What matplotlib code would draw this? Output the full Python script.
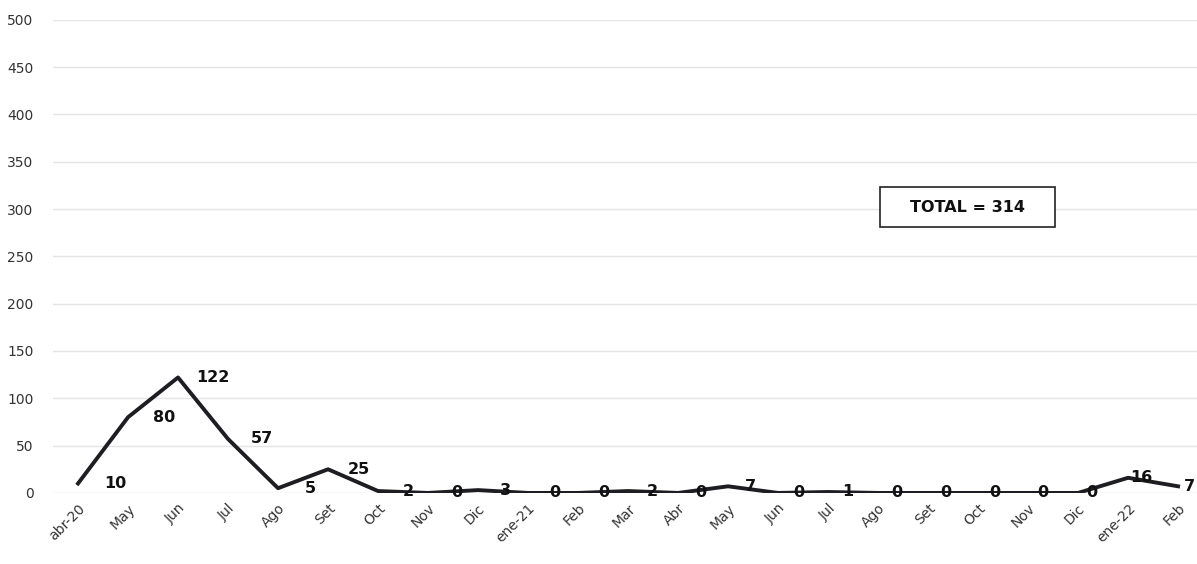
import matplotlib.pyplot as plt
from matplotlib.patches import Rectangle

months = ["abr-20", "May", "Jun", "Jul", "Ago", "Set", "Oct", "Nov", "Dic",
          "ene-21", "Feb", "Mar", "Abr", "May", "Jun", "Jul", "Ago", "Set",
          "Oct", "Nov", "Dic", "ene-22", "Feb"]
cases = [10, 80, 122, 57, 5, 25, 2, 0, 3, 0, 0, 2, 0, 7, 0, 1, 0, 0, 0, 0, 0, 16, 7]
total_label = "TOTAL = 314"

fig = plt.figure(figsize=(11.97, 5.64), dpi=100)
ax = fig.add_axes([0.0443, 0.126, 0.9566, 0.839])

x = list(range(len(months)))
ax.plot(x, cases, color="#1e1e22", linewidth=2.8, solid_joinstyle="round")

# value labels drift from right of the point toward the point along the axis
for i, v in zip(x, cases):
    ax.text(i + 0.74 - 0.023 * i, v, str(v), ha="center", va="center", fontsize=11.5,
            fontweight="bold", color="#111111", clip_on=False)

ax.set_xlim(-0.5, 22.4)
ax.set_ylim(0, 500)
ax.set_yticks(range(0, 501, 50))
ax.yaxis.grid(True, color="#e4e4e4", linewidth=1)
ax.set_axisbelow(True)
ax.set_xticks(x)
ax.set_xticklabels(months, rotation=45, ha="right", rotation_mode="anchor",
                   fontsize=10, color="#333333")
ax.tick_params(axis="both", length=0)
ax.tick_params(axis="y", labelsize=10, labelcolor="#333333", pad=14)
ax.tick_params(axis="x", pad=6)
for s in ax.spines.values():
    s.set_visible(False)

box = Rectangle((0.722, 0.562), 0.153, 0.085, transform=ax.transAxes,
                facecolor="white", edgecolor="#222222", linewidth=1.2, zorder=3)
ax.add_patch(box)
ax.text(0.7985, 0.604, total_label, transform=ax.transAxes, ha="center", va="center",
        fontsize=11.5, fontweight="bold", color="#111111", zorder=4)

fig.savefig("out.png", dpi=100)
